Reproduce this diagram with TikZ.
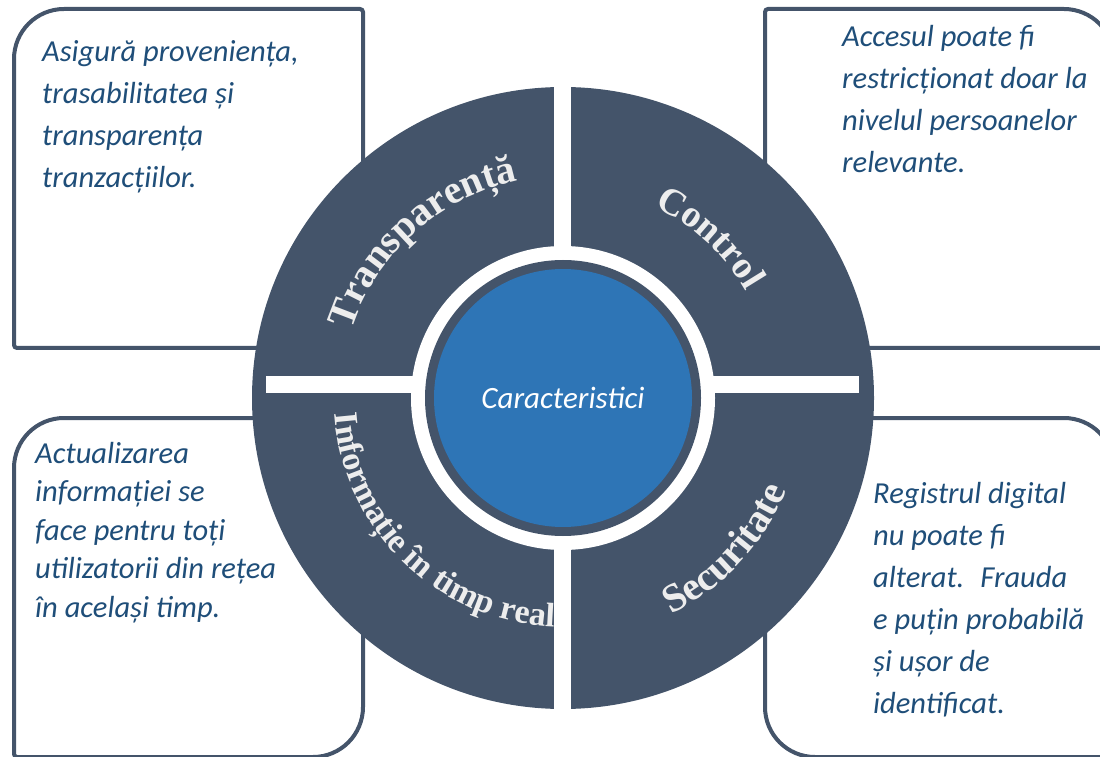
\documentclass[tikz,border=0pt]{standalone}
\usepackage{fontspec}
\setmainfont{Liberation Serif}
\newfontfamily\boxfont{Carlito}
\newfontfamily\quadfont{Liberation Serif}
\usetikzlibrary{decorations.text}
\definecolor{slate}{HTML}{44546A}
\definecolor{midblue}{HTML}{2E75B6}
\definecolor{navy}{HTML}{1F4E79}
\definecolor{quadtxt}{HTML}{EDEDED}
\newcommand\quadstyle{\quadfont\bfseries\fontsize{40}{40}\selectfont}
\newcommand\quadstylecn{\quadfont\bfseries\fontsize{38}{38}\selectfont}
\newcommand\quadstylesm{\quadfont\bfseries\fontsize{34}{34}\selectfont}
\begin{document}
\begin{tikzpicture}[x=1pt,y=1pt,
  boxline/.style={draw=slate, line width=4pt, fill=white},
  desc/.style={text=navy, align=left, anchor=base west, inner sep=0pt},
  quadtext/.style={decorate, decoration={text along path, text align=center, text color=quadtxt}}]
\useasboundingbox (0,0) rectangle (1100,756);
% boxes
\draw[boxline] (14,600) [rounded corners=50pt] -- (14,747) [rounded corners=3pt] -- (363,747) [rounded corners=50pt] -- (363,408) [rounded corners=3pt] -- (14,408) -- cycle;
\draw[boxline] (1114,600) [rounded corners=50pt] -- (1114,747) [rounded corners=3pt] -- (765,747) [rounded corners=50pt] -- (765,408) [rounded corners=3pt] -- (1114,408) -- cycle;
\draw[boxline] (14,150) [rounded corners=50pt] -- (14,338) [rounded corners=3pt] -- (363,338) [rounded corners=50pt] -- (363,-1) [rounded corners=3pt] -- (14,-1) -- cycle;
\draw[boxline] (1114,150) [rounded corners=50pt] -- (1114,338) [rounded corners=3pt] -- (765,338) [rounded corners=50pt] -- (765,-1) [rounded corners=3pt] -- (1114,-1) -- cycle;
% wheel
\coordinate (c) at (563,358);
\fill[slate] (c) circle[radius=311];
\fill[white] (554,40) rectangle (571,676);
\fill[white] (266,363) rectangle (859,380);
\fill[white] (c) circle[radius=152];
\fill[slate] (c) circle[radius=138];
\node[circle, fill=midblue, minimum size=258pt, inner sep=0pt, text=white,
  font=\boxfont\itshape\fontsize{31}{31}\selectfont] (core) at (c) {Caracteristici};
% quadrant labels
\path[quadtext, decoration={text={|\quadstyle|Transparență}}] (c) ++(182:222) arc[start angle=182, end angle=82, radius=222];
\path[quadtext, decoration={text={|\quadstylecn|Control}}] (c) ++(97.4:212) arc[start angle=97.4, end angle=-2.6, radius=212];
\path[quadtext, decoration={text={|\quadstyle|Securitate}}] (c) ++(-93:242) arc[start angle=-93, end angle=7, radius=242];
\path[quadtext, decoration={text={|\quadstylesm|Informație în timp real}}] (c) ++(175.9:229) arc[start angle=175.9, end angle=275.9, radius=229];
% descriptions (anchored at the baseline of the last line)
\node[desc, font=\boxfont\itshape\fontsize{30.5}{42}\selectfont] (tl) at (42,568)
  {Asigură proveniența,\\trasabilitatea și\\transparența\\tranzacțiilor.};
\node[desc, font=\boxfont\itshape\fontsize{30.5}{42}\selectfont] (tr) at (842,583)
  {Accesul poate fi\\restricționat doar la\\nivelul persoanelor\\relevante.};
\node[desc, font=\boxfont\itshape\fontsize{30.5}{38.5}\selectfont] (bl) at (35,139)
  {Actualizarea\\informației se\\face pentru toți\\utilizatorii din rețea\\în același timp.};
\node[desc, font=\boxfont\itshape\fontsize{30.5}{42}\selectfont] (br) at (873,43)
  {Registrul digital\\nu poate fi\\alterat.~ Frauda\\e puțin probabilă\\și ușor de\\identificat.};
\end{tikzpicture}
\end{document}
